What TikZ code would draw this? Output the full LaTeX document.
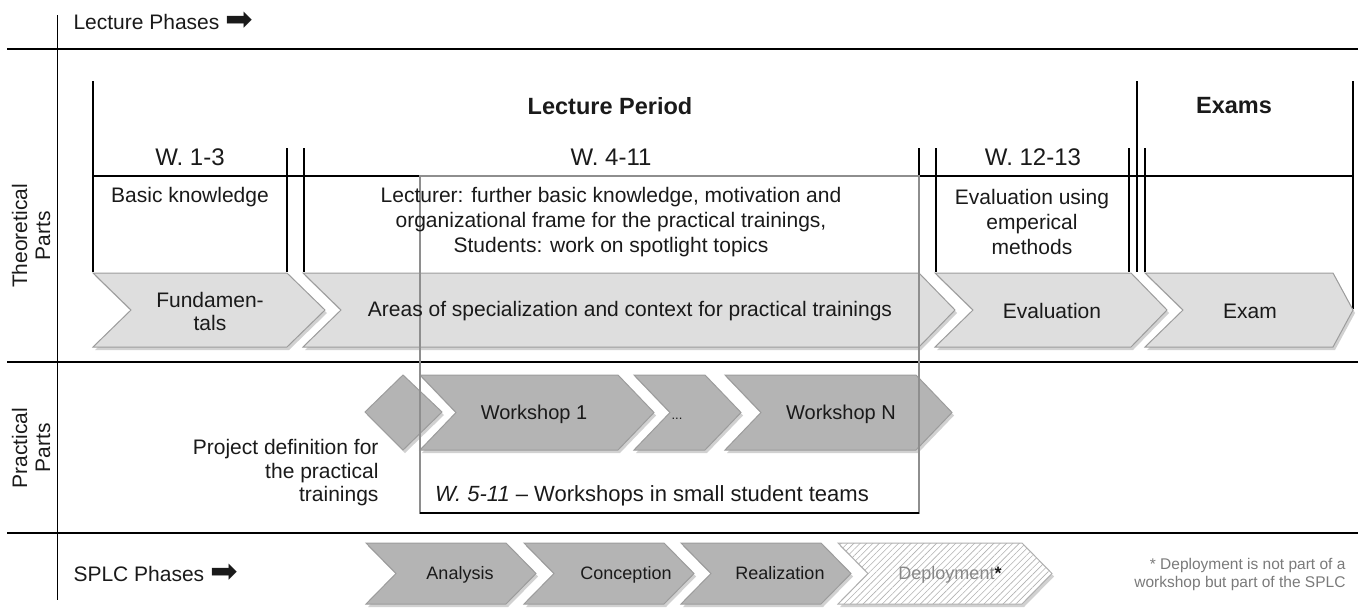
\documentclass[tikz,border=0pt]{standalone}
\usepackage{fontspec}
\setmainfont{Liberation Sans}
\newfontfamily\arrowfont{DejaVu Sans}
\usepackage{xcolor}
\usepackage{tikz}
\usetikzlibrary{shadows, patterns.meta}

\definecolor{chevlight}{HTML}{DEDEDE}
\definecolor{chevdark}{HTML}{B4B4B4}
\definecolor{chevline}{HTML}{9C9C9C}
\definecolor{hatchline}{HTML}{B2B2B2}
\definecolor{frameline}{HTML}{8E8E8E}
\definecolor{txtblack}{HTML}{1A1A1A}
\definecolor{notegray}{HTML}{7A7A7A}

% chevron: style, left, right, top, bottom, notch depth, tip depth
\newcommand{\chevron}[7]{%
  \filldraw[#1] (#2,#4) -- (#3,#4) -- ({#3+#7},{(#4+#5)/2}) -- (#3,#5)
    -- (#2,#5) -- ({#2+#6},{(#4+#5)/2}) -- cycle;}
\newcommand{\phasearrow}{{\arrowfont\fontsize{33}{33}\selectfont\raisebox{-1pt}{➡}}}

\begin{document}
\begin{tikzpicture}[
    x=1pt, y=-1pt,
    txt/.style={text=txtblack, align=center, font=\fontsize{21}{25}\selectfont},
    head/.style={text=txtblack, font=\fontsize{23.5}{28}\selectfont\bfseries},
    week/.style={text=txtblack, font=\fontsize{24}{28}\selectfont},
    axis/.style={line width=1.2pt, black},
    bracket/.style={line width=1.3pt, black},
    thickrule/.style={line width=2.8pt, black},
    soft/.style={drop shadow={shadow xshift=2pt, shadow yshift=-3pt, opacity=.4, fill=black!45}},
    lightchev/.style={soft, fill=chevlight, draw=chevline, line width=1pt},
    darkchev/.style={soft, fill=chevdark, draw=chevline, line width=1pt},
    hatchchev/.style={soft, preaction={fill=white}, draw=chevline!80, line width=1pt,
        pattern={Lines[angle=45, distance=4.5pt, line width=0.6pt]}, pattern color=hatchline},
    chevtxt/.style={text=txtblack, align=center, font=\fontsize{21}{23}\selectfont},
    linetxt/.style={text=txtblack, anchor=base, font=\fontsize{20}{23}\selectfont},
    splctxt/.style={text=txtblack, anchor=base, font=\fontsize{18}{21}\selectfont}
]
\useasboundingbox (0,0) rectangle (1358,608);

% axes
\draw[axis] (57.5,15) -- (57.5,600);
\foreach \y in {49,362,533}
  \draw[axis] (7,\y) -- (1358,\y);

% lecture period brackets
\draw[bracket] (93,81) -- (93,272);
\draw[bracket] (1137,81) -- (1137,272);
\draw[bracket] (1353,81) -- (1353,309);
\foreach \x in {287,304,919,936,1129,1145}
  \draw[bracket] (\x,148) -- (\x,272);
\draw[thickrule] (93,176) -- (1353,176);

% theoretical parts
\chevron{lightchev}{93}{287}{273}{347}{38}{38}
\chevron{lightchev}{303}{919}{273}{347}{38}{36}
\chevron{lightchev}{935}{1131}{273}{347}{38}{36}
\chevron{lightchev}{1145}{1333}{273}{347}{38}{20}

% practical parts
\filldraw[darkchev] (365,412) -- (403,375) -- (442,412) -- (403,450) -- cycle;
\chevron{darkchev}{420}{618}{375}{450}{36}{36}
\chevron{darkchev}{634}{705}{375}{450}{36}{36}
\chevron{darkchev}{725}{916}{375}{450}{36}{36}

% SPLC phases
\chevron{darkchev}{366}{506}{543}{604}{30}{30}
\chevron{darkchev}{524}{664}{543}{604}{30}{30}
\chevron{darkchev}{681}{821}{543}{604}{30}{30}
\chevron{hatchchev}{838}{1022}{543}{604}{30}{30}

% workshop frame
\draw[frameline, line width=1.2pt] (420,176) rectangle (919,513);
\draw[thickrule] (420,513) -- (919,513);

\node[txt, anchor=west] (lphases) at (70,21) {Lecture Phases \phasearrow};
\node[txt, rotate=90, font=\fontsize{21}{23}\selectfont] (theo) at (31,236) {Theoretical\\Parts};
\node[txt, rotate=90, font=\fontsize{21}{23}\selectfont] (prac) at (31,448) {Practical\\Parts};
\node[txt, anchor=west] (splc) at (70,573) {SPLC Phases \phasearrow};

\node[head] (lperiod) at (610,106) {Lecture Period};
\node[head] (exams) at (1234,106) {Exams};
\node[week] (w13) at (190,157) {W. 1-3};
\node[week] (w411) at (611,157) {W. 4-11};
\node[week] (w1213) at (1033,157) {W. 12-13};

\node[txt] (basic) at (190,197) {Basic knowledge};
\node[txt] (lecturer) at (611,222) {Lecturer: further basic knowledge, motivation and\\organizational frame for the practical trainings,\\Students: work on spotlight topics};
\node[txt] (evalm) at (1032,222) {Evaluation using\\emperical\\methods};

\node[chevtxt] (fund) at (210,311) {Fundamen-\\tals};
\node[chevtxt] (areas) at (630,311) {Areas of specialization and context for practical trainings};
\node[linetxt, font=\fontsize{21}{23}\selectfont] (eval) at (1052,318.5) {Evaluation};
\node[linetxt, font=\fontsize{21}{23}\selectfont] (exam) at (1250,318.5) {Exam};

\node[linetxt] (ws1) at (534,419) {Workshop 1};
\node[linetxt, font=\fontsize{13}{15}\selectfont] (wsdots) at (677,419) {...};
\node[linetxt] (wsn) at (841,419) {Workshop N};
\node[txt, align=right, anchor=east, font=\fontsize{21}{23.5}\selectfont] (projdef) at (382,473) {Project definition for\\the practical\\trainings};
\node[txt, font=\fontsize{22}{26}\selectfont] (wsteams) at (652,496) {\textit{W. 5-11} – Workshops in small student teams};

\node[splctxt] (analysis) at (460,579) {Analysis};
\node[splctxt] (conception) at (626,579) {Conception};
\node[splctxt] (realization) at (780,579) {Realization};
\node[splctxt] (deploy) at (950,579) {\textcolor{notegray!90}{Deployment}\textbf{*}};
\node[anchor=east, align=right, text=notegray, font=\fontsize{15.5}{18}\selectfont] (note) at (1349,574) {* Deployment is not part of a\\workshop but part of the SPLC};
\end{tikzpicture}
\end{document}
